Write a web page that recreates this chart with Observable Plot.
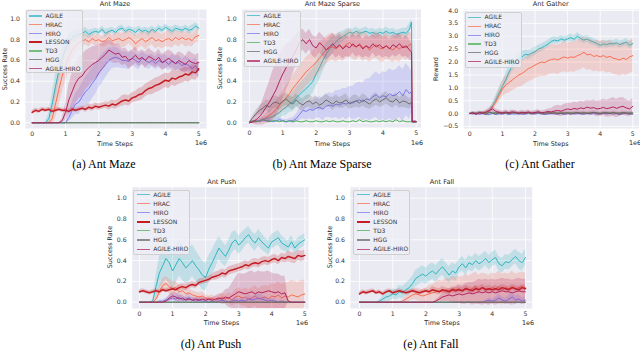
<!DOCTYPE html>
<html><head><meta charset="utf-8">
<script src="https://cdn.jsdelivr.net/npm/d3@7"></script>
<script src="https://cdn.jsdelivr.net/npm/@observablehq/plot@0.6"></script>
<style>
body{margin:0;background:#fff;}
#root{position:relative;width:640px;height:352px;overflow:hidden;font-family:"DejaVu Sans",sans-serif;}
.abs{position:absolute;white-space:nowrap;line-height:1;}
.c{transform:translate(-50%,-50%);}
.lbl{font-size:6.4px;color:#262626;}
.ttl{font-size:6.6px;color:#262626;}
.rot{transform:translate(-50%,-50%) rotate(-90deg);}
.cap{font-family:"Liberation Serif","Times New Roman",serif;font-size:12px;color:#000;}
.leg{position:absolute;border:0.7px solid #cfcfcf;border-radius:2px;background:rgba(238,238,245,0.82);box-sizing:border-box;}
.legtxt{font-size:6px;color:#333;transform:translateY(-50%);}
svg{position:absolute;}
</style></head><body><div id="root"></div>
<script>
// ---------------- x values (time steps, 1e6) ----------------
const steps = [0,0.1,0.2,0.3,0.4,0.5,0.6,0.7,0.8,0.9,1,1.1,1.2,1.3,1.4,1.5,1.6,1.7,1.8,1.9,2,2.1,2.2,2.3,2.4,2.5,2.6,2.7,2.8,2.9,3,3.1,3.2,3.3,3.4,3.5,3.6,3.7,3.8,3.9,4,4.1,4.2,4.3,4.4,4.5,4.6,4.7,4.8,4.9,5];
const stepsSparse = [0,0.1,0.2,0.3,0.4,0.5,0.6,0.7,0.8,0.9,1,1.1,1.2,1.3,1.4,1.5,1.6,1.7,1.8,1.9,2,2.1,2.2,2.3,2.4,2.5,2.6,2.7,2.8,2.9,3,3.1,3.2,3.3,3.4,3.5,3.6,3.7,3.8,3.9,4,4.1,4.2,4.3,4.4,4.5,4.6,4.7,4.8,4.86,4.88,5];
const xTicks = [0,1,2,3,4,5];
const rateTicks = [0,0.2,0.4,0.6,0.8,1.0];
const rewardTicks = [-0.5,0,0.5,1,1.5,2,2.5,3,3.5,4];

// ---------------- (a) Ant Maze ----------------
const mazeAgile = [0,0,0,0,0,0.04,0.18,0.35,0.5,0.62, 0.72,0.78,0.82,0.84,0.85,0.86,0.88,0.85,0.87,0.88, 0.87,0.9,0.86,0.88,0.89,0.87,0.9,0.91,0.88,0.9, 0.89,0.87,0.9,0.88,0.89,0.87,0.9,0.88,0.91,0.89, 0.92,0.9,0.88,0.91,0.9,0.89,0.91,0.89,0.9,0.93, 0.91];
const mazeAgileBand = [0,0,0,0,0.01,0.05,0.1,0.12,0.12,0.1, 0.08,0.07,0.06,0.05,0.05,0.04,0.04,0.04,0.03,0.03, 0.03,0.03,0.04,0.03,0.03,0.03,0.03,0.03,0.03,0.03, 0.03,0.04,0.03,0.03,0.03,0.04,0.03,0.03,0.03,0.03, 0.03,0.03,0.04,0.03,0.03,0.03,0.03,0.03,0.04,0.03, 0.03];
const mazeHrac = [0,0,0,0,0,0,0.04,0.18,0.32,0.45, 0.55,0.63,0.7,0.74,0.77,0.79,0.8,0.78,0.81,0.79, 0.8,0.78,0.79,0.82,0.79,0.8,0.81,0.79,0.8,0.82, 0.8,0.76,0.79,0.81,0.78,0.8,0.82,0.79,0.8,0.78, 0.8,0.81,0.79,0.82,0.8,0.82,0.8,0.81,0.79,0.83, 0.84];
const mazeHracBand = [0,0,0,0,0,0.01,0.06,0.14,0.16,0.16, 0.15,0.13,0.1,0.08,0.07,0.06,0.05,0.05,0.05,0.05, 0.05,0.05,0.06,0.06,0.05,0.06,0.06,0.07,0.07,0.06, 0.07,0.08,0.07,0.07,0.08,0.07,0.07,0.08,0.07,0.07, 0.07,0.08,0.07,0.07,0.07,0.06,0.07,0.07,0.06,0.06, 0.06];
const mazeHiro = [0,0,0,0,0,0,0,0,0,0, 0,0.05,0.12,0.18,0.2,0.25,0.3,0.33,0.38,0.42, 0.48,0.52,0.56,0.6,0.62,0.63,0.62,0.6,0.6,0.59, 0.62,0.6,0.58,0.62,0.6,0.58,0.6,0.57,0.6,0.58, 0.59,0.56,0.6,0.57,0.58,0.55,0.57,0.55,0.52,0.55, 0.5];
const mazeHiroBand = [0,0,0,0,0,0,0,0,0,0, 0,0.04,0.08,0.1,0.12,0.13,0.14,0.15,0.15,0.15, 0.14,0.14,0.13,0.12,0.1,0.1,0.09,0.08,0.08,0.08, 0.07,0.07,0.07,0.06,0.06,0.07,0.06,0.06,0.07,0.06, 0.07,0.06,0.06,0.07,0.07,0.06,0.07,0.07,0.08,0.07, 0.08];
const mazeLesson = [0.1,0.12,0.11,0.13,0.12,0.13,0.11,0.12,0.13,0.12, 0.12,0.11,0.13,0.12,0.13,0.14,0.13,0.15,0.14,0.16, 0.15,0.16,0.17,0.16,0.18,0.17,0.19,0.21,0.22,0.21, 0.24,0.25,0.27,0.28,0.31,0.33,0.34,0.36,0.37,0.39, 0.41,0.4,0.43,0.42,0.44,0.45,0.47,0.46,0.49,0.48, 0.52];
const mazeLessonBand = [0.02,0.02,0.02,0.02,0.02,0.02,0.02,0.02,0.02,0.02, 0.02,0.02,0.02,0.02,0.02,0.02,0.03,0.03,0.03,0.03, 0.03,0.03,0.03,0.04,0.04,0.04,0.04,0.05,0.05,0.05, 0.05,0.05,0.06,0.06,0.06,0.06,0.07,0.07,0.07,0.07, 0.07,0.07,0.07,0.07,0.07,0.07,0.07,0.07,0.07,0.07, 0.07];
const mazeTd3 = [0,0,0,0,0,0,0,0,0,0, 0,0,0,0,0,0,0,0,0,0, 0,0,0,0,0,0,0,0,0,0, 0,0,0,0,0,0,0,0,0,0, 0,0,0,0,0,0,0,0,0,0, 0];
const mazeHgg = [0,0,0,0,0,0,0,0,0,0, 0,0,0,0,0,0,0,0,0,0, 0,0,0,0,0,0,0,0,0,0, 0,0,0,0,0,0,0,0,0,0, 0,0,0,0,0,0,0,0,0,0, 0];
const mazeAgileHiro = [0,0,0,0,0,0,0,0,0,0.02, 0.1,0.22,0.3,0.38,0.43,0.45,0.5,0.53,0.56,0.58, 0.6,0.63,0.66,0.7,0.68,0.66,0.67,0.63,0.64,0.6, 0.62,0.65,0.61,0.63,0.6,0.64,0.62,0.6,0.63,0.58, 0.6,0.62,0.59,0.57,0.6,0.58,0.56,0.6,0.58,0.57, 0.58];
const mazeAgileHiroBand = [0,0,0,0,0,0,0,0,0,0.02, 0.08,0.14,0.18,0.2,0.2,0.2,0.19,0.18,0.17,0.16, 0.15,0.13,0.12,0.1,0.1,0.09,0.09,0.08,0.08,0.08, 0.08,0.08,0.07,0.07,0.08,0.08,0.07,0.07,0.08,0.08, 0.08,0.08,0.09,0.08,0.08,0.09,0.08,0.09,0.09,0.08, 0.09];

// ---------------- (b) Ant Maze Sparse ----------------
const sparseAgile = [0,0.01,0.01,0.02,0.03,0.04,0.05,0.06,0.08,0.1, 0.13,0.15,0.18,0.2,0.24,0.27,0.3,0.33,0.36,0.4, 0.47,0.53,0.6,0.66,0.71,0.75,0.78,0.81,0.83,0.85, 0.87,0.86,0.88,0.86,0.87,0.88,0.86,0.87,0.85,0.87, 0.86,0.88,0.86,0.87,0.85,0.86,0.87,0.86,0.9, 0.97,0.01,0.01];
const sparseAgileBand = [0,0.01,0.01,0.01,0.02,0.02,0.03,0.04,0.05,0.06, 0.07,0.08,0.08,0.09,0.1,0.1,0.11,0.11,0.12,0.12, 0.12,0.12,0.11,0.1,0.09,0.08,0.07,0.06,0.05,0.05, 0.04,0.04,0.04,0.04,0.04,0.04,0.04,0.04,0.04,0.04, 0.04,0.04,0.04,0.04,0.04,0.04,0.04,0.05,0.05, 0.03,0.01,0.01];
const sparseHrac = [0,0.01,0.01,0.02,0.03,0.05,0.07,0.1,0.13,0.17, 0.2,0.24,0.28,0.33,0.37,0.41,0.45,0.49,0.52,0.55, 0.58,0.62,0.66,0.7,0.72,0.73,0.71,0.74,0.72,0.75, 0.77,0.74,0.73,0.76,0.72,0.74,0.7,0.73,0.75,0.72, 0.71,0.74,0.72,0.7,0.73,0.71,0.74,0.72,0.75, 0.76,0.01,0.01];
const sparseHracBand = [0,0.01,0.01,0.02,0.03,0.04,0.05,0.06,0.08,0.09, 0.1,0.11,0.12,0.13,0.13,0.14,0.14,0.14,0.14,0.14, 0.14,0.14,0.14,0.13,0.13,0.13,0.13,0.13,0.13,0.13, 0.13,0.13,0.13,0.13,0.13,0.13,0.12,0.12,0.13,0.13, 0.13,0.13,0.12,0.12,0.13,0.13,0.12,0.12,0.12, 0.1,0.01,0.01];
const sparseHiro = [0,0.01,0.02,0.01,0.03,0.02,0.02,0.01,0.02,0.03, 0.02,0.01,0.02,0.02,0.04,0.08,0.12,0.11,0.13,0.12, 0.14,0.15,0.13,0.16,0.17,0.16,0.18,0.17,0.19,0.18, 0.2,0.19,0.21,0.22,0.2,0.23,0.22,0.25,0.27,0.24, 0.26,0.25,0.28,0.26,0.27,0.3,0.26,0.32,0.28, 0.3,0.01,0.01];
const sparseHiroBand = [0,0.01,0.01,0.01,0.02,0.02,0.02,0.01,0.02,0.02, 0.02,0.02,0.02,0.03,0.04,0.06,0.08,0.08,0.09,0.09, 0.1,0.1,0.11,0.11,0.12,0.12,0.13,0.14,0.14,0.15, 0.15,0.16,0.17,0.17,0.18,0.19,0.2,0.21,0.22,0.22, 0.23,0.23,0.24,0.24,0.24,0.25,0.25,0.25,0.25, 0.2,0.01,0.01];
const sparseTd3 = [0.01,0.02,0.01,0.02,0.03,0.02,0.01,0.02,0.02,0.01, 0.02,0.01,0.02,0.01,0.02,0.01,0.01,0.02,0.01,0.01, 0.02,0.01,0.01,0.02,0.01,0.02,0.01,0.01,0.02,0.01, 0.01,0.02,0.01,0.03,0.01,0.02,0.01,0.01,0.02,0.01, 0.02,0.01,0.02,0.01,0.03,0.01,0.02,0.01,0.01, 0.01,0.01,0.01];
const sparseHgg = [0.01,0.05,0.09,0.12,0.14,0.17,0.15,0.19,0.2,0.18, 0.21,0.23,0.2,0.18,0.22,0.19,0.17,0.2,0.21,0.18, 0.2,0.17,0.19,0.22,0.2,0.18,0.21,0.19,0.2,0.22, 0.18,0.2,0.21,0.19,0.22,0.2,0.18,0.21,0.23,0.2, 0.22,0.24,0.21,0.2,0.23,0.19,0.21,0.2,0.18, 0.2,0.01,0.01];
const sparseHggBand = [0,0.02,0.03,0.04,0.05,0.05,0.06,0.06,0.06,0.06, 0.06,0.06,0.06,0.06,0.06,0.06,0.06,0.06,0.06,0.06, 0.06,0.05,0.06,0.06,0.05,0.06,0.06,0.05,0.06,0.06, 0.05,0.06,0.06,0.05,0.06,0.06,0.05,0.06,0.06,0.05, 0.06,0.06,0.05,0.06,0.06,0.05,0.06,0.06,0.05, 0.05,0.01,0.01];
const sparseAgileHiro = [0,0.01,0.03,0.06,0.1,0.15,0.2,0.26,0.32,0.4, 0.47,0.53,0.58,0.64,0.7,0.77,0.8,0.76,0.8,0.74, 0.72,0.77,0.74,0.7,0.73,0.76,0.72,0.75,0.71,0.74, 0.72,0.76,0.73,0.75,0.71,0.74,0.72,0.76,0.73,0.75, 0.72,0.74,0.71,0.75,0.73,0.76,0.72,0.74,0.7, 0.68,0.01,0.01];
const sparseAgileHiroBand = [0,0.02,0.05,0.08,0.12,0.16,0.2,0.24,0.26,0.26, 0.25,0.22,0.2,0.17,0.14,0.12,0.1,0.1,0.1,0.1, 0.1,0.1,0.1,0.1,0.1,0.1,0.1,0.1,0.1,0.1, 0.1,0.09,0.1,0.1,0.09,0.1,0.1,0.09,0.1,0.1, 0.1,0.1,0.09,0.1,0.1,0.1,0.09,0.1,0.1, 0.08,0.01,0.01];

// ---------------- (c) Ant Gather ----------------
const gatherAgile = [0,0.02,-0.01,0.03,0.01,0.04,0.1,0.3,0.55,0.8, 1.05,1.3,1.6,1.85,2.0,2.15,2.2,2.3,2.28,2.35, 2.4,2.5,2.55,2.62,2.7,2.8,2.85,2.82,2.9,2.85, 2.9,2.95,2.88,3.0,2.92,2.85,2.9,2.82,2.78,2.72, 2.65,2.7,2.68,2.72,2.7,2.75,2.68,2.72,2.78,2.65, 2.72];
const gatherAgileBand = [0.03,0.04,0.05,0.05,0.05,0.06,0.08,0.12,0.15,0.2, 0.22,0.25,0.25,0.25,0.22,0.2,0.2,0.18,0.18,0.16, 0.16,0.15,0.15,0.15,0.14,0.14,0.14,0.13,0.13,0.13, 0.13,0.14,0.13,0.14,0.13,0.14,0.13,0.14,0.13,0.14, 0.14,0.13,0.14,0.14,0.13,0.14,0.14,0.13,0.14,0.14, 0.14];
const gatherHrac = [0,0.01,0.02,-0.01,0.03,0.05,0.1,0.25,0.45,0.7, 0.95,1.1,1.2,1.3,1.4,1.5,1.55,1.65,1.75,1.8, 1.88,1.95,2.0,1.98,2.05,2.1,2.12,2.08,2.15,2.2, 2.15,2.2,2.18,2.25,2.3,2.38,2.28,2.3,2.22,2.25, 2.2,2.25,2.18,2.22,2.15,2.12,2.08,2.15,2.1,2.2, 2.25];
const gatherHracBand = [0.03,0.04,0.05,0.05,0.05,0.06,0.08,0.12,0.18,0.25, 0.3,0.35,0.4,0.42,0.45,0.48,0.5,0.5,0.52,0.52, 0.53,0.54,0.55,0.55,0.55,0.56,0.56,0.57,0.57,0.58, 0.58,0.58,0.59,0.59,0.6,0.6,0.6,0.6,0.6,0.6, 0.6,0.61,0.61,0.62,0.62,0.62,0.63,0.63,0.63,0.64, 0.65];
const gatherHiro = [0,-0.02,0.01,-0.03,0,-0.02,-0.04,0.01,-0.03,-0.01, -0.02,0,-0.03,-0.01,-0.02,0.01,-0.03,-0.02,0,-0.01, -0.02,0,-0.01,-0.03,-0.02,0.01,-0.01,-0.02,0,-0.03, -0.01,0.02,-0.02,0,-0.01,-0.03,0.01,-0.02,0,-0.01, -0.02,0,-0.01,0.01,-0.02,0,-0.03,-0.01,0,-0.02, -0.03];
const gatherHiroBand = [0.03,0.04,0.04,0.05,0.04,0.05,0.05,0.04,0.05,0.04, 0.05,0.04,0.05,0.05,0.04,0.05,0.04,0.05,0.05,0.04, 0.05,0.04,0.05,0.04,0.05,0.05,0.04,0.05,0.04,0.05, 0.05,0.04,0.05,0.04,0.05,0.05,0.04,0.05,0.04,0.05, 0.04,0.05,0.05,0.04,0.05,0.04,0.05,0.05,0.04,0.05, 0.05];
const gatherTd3 = [0,0.02,0.01,0.03,0.02,0.01,0.03,0.02,0.04,0.02, 0.03,0.01,0.02,0.03,0.02,0.04,0.02,0.03,0.01,0.02, 0.03,0.02,0.04,0.02,0.03,0.02,0.01,0.03,0.02,0.04, 0.02,0.03,0.02,0.04,0.03,0.02,0.03,0.02,0.04,0.03, 0.02,0.03,0.04,0.02,0.03,0.02,0.03,0.04,0.02,0.03, 0.02];
const gatherHgg = [0,0.03,-0.02,0.04,0.01,-0.03,0.05,0.02,-0.02,0.03, 0,0.04,-0.01,0.02,0.05,-0.02,0.03,0,0.04,-0.01, 0.02,0.05,0,-0.02,0.03,0.01,0.04,-0.01,0.02,0, 0.03,-0.02,0.02,0.04,0,0.03,-0.01,0.02,0.05,0.01, -0.01,0.03,0.02,0,0.04,0.01,-0.02,0.03,0.02,0, 0.02];
const gatherHggBand = [0.03,0.05,0.06,0.06,0.07,0.06,0.07,0.07,0.06,0.07, 0.07,0.06,0.07,0.06,0.07,0.07,0.06,0.07,0.06,0.07, 0.06,0.07,0.07,0.06,0.07,0.06,0.07,0.07,0.06,0.07, 0.07,0.06,0.07,0.06,0.07,0.07,0.06,0.07,0.06,0.07, 0.06,0.07,0.07,0.06,0.07,0.06,0.07,0.07,0.06,0.07, 0.07];
const gatherAgileHiro = [0,0.02,-0.03,0.04,0.01,0.06,0.12,0.18,0.08,0.05, 0.02,0.06,0.03,0.07,0.04,0.01,0.05,0.03,0.06,0.02, 0.04,0.07,0.03,0.05,0.08,0.06,0.1,0.12,0.09,0.14, 0.18,0.15,0.2,0.17,0.22,0.19,0.25,0.21,0.23,0.18, 0.2,0.24,0.19,0.22,0.26,0.2,0.25,0.28,0.22,0.18, 0.28];
const gatherAgileHiroBand = [0.03,0.04,0.05,0.05,0.06,0.07,0.1,0.12,0.1,0.08, 0.07,0.08,0.07,0.08,0.07,0.07,0.08,0.07,0.08,0.07, 0.08,0.08,0.07,0.08,0.1,0.14,0.18,0.2,0.2,0.22, 0.22,0.24,0.24,0.25,0.26,0.26,0.27,0.28,0.3,0.3, 0.3,0.32,0.33,0.35,0.36,0.36,0.35,0.34,0.32,0.3, 0.3];

// ---------------- (d) Ant Push ----------------
const pushAgile = [0,0,0,0,0.01,0.15,0.28,0.35,0.42,0.38, 0.3,0.36,0.42,0.38,0.33,0.36,0.4,0.35,0.31,0.26, 0.24,0.32,0.38,0.45,0.52,0.48,0.44,0.5,0.57,0.6, 0.55,0.58,0.62,0.65,0.6,0.57,0.62,0.58,0.55,0.52, 0.58,0.6,0.62,0.57,0.55,0.53,0.58,0.52,0.56,0.58, 0.6];
const pushAgileBand = [0,0,0,0,0.01,0.1,0.15,0.18,0.2,0.2, 0.18,0.18,0.17,0.17,0.16,0.16,0.15,0.15,0.14,0.14, 0.13,0.13,0.12,0.12,0.11,0.11,0.1,0.1,0.1,0.09, 0.09,0.09,0.08,0.08,0.08,0.08,0.08,0.08,0.07,0.07, 0.07,0.07,0.07,0.07,0.06,0.06,0.06,0.06,0.06,0.06, 0.06];
const pushHrac = [0,0,0,0,0,0.03,0.1,0.16,0.18,0.15, 0.13,0.14,0.1,0.11,0.08,0.09,0.07,0.06,0.05,0.06, 0.04,0.03,0.04,0.02,0.03,0.05,0.03,0.04,0.02,0.05, 0.06,0.04,0.05,0.03,0.04,0.06,0.03,0.04,0.05,0.03, 0.06,0.05,0.07,0.04,0.06,0.05,0.07,0.06,0.05,0.07, 0.08];
const pushHracBand = [0,0,0,0,0,0.02,0.05,0.06,0.07,0.07, 0.07,0.06,0.06,0.05,0.05,0.05,0.04,0.04,0.04,0.04, 0.03,0.03,0.03,0.03,0.03,0.04,0.04,0.05,0.06,0.07, 0.08,0.08,0.09,0.09,0.1,0.1,0.1,0.11,0.11,0.12, 0.12,0.12,0.13,0.13,0.13,0.14,0.14,0.14,0.14,0.14, 0.13];
const pushHiro = [0,0,0,0,0,0,0.01,0.01,0.02,0.03, 0.04,0.03,0.05,0.02,0.03,0.04,0.02,0.01,0.02,0.01, 0.01,0,0.01,0,0.01,0.02,0.01,0,0.01,0.02, 0.01,0.02,0.01,0.03,0.02,0.03,0.04,0.03,0.02,0.01, 0.02,0.01,0,0.01,0,0,0,0,0,0, 0];
const pushHiroBand = [0,0,0,0,0,0,0.01,0.01,0.02,0.03, 0.04,0.04,0.05,0.03,0.03,0.04,0.03,0.02,0.02,0.02, 0.02,0.01,0.02,0.01,0.02,0.02,0.02,0.01,0.02,0.03, 0.02,0.03,0.02,0.04,0.03,0.04,0.05,0.04,0.03,0.02, 0.02,0.02,0.01,0.01,0.01,0,0,0,0,0, 0];
const pushLesson = [0.1,0.11,0.1,0.09,0.1,0.11,0.1,0.12,0.11,0.12, 0.13,0.12,0.14,0.15,0.14,0.16,0.17,0.16,0.19,0.2, 0.21,0.22,0.24,0.25,0.26,0.28,0.27,0.3,0.31,0.32, 0.33,0.34,0.36,0.35,0.37,0.38,0.37,0.39,0.4,0.39, 0.41,0.42,0.4,0.43,0.42,0.44,0.43,0.42,0.45,0.44, 0.45];
const pushLessonBand = [0.02,0.02,0.02,0.02,0.02,0.02,0.02,0.02,0.02,0.02, 0.02,0.02,0.03,0.03,0.03,0.03,0.03,0.03,0.03,0.03, 0.03,0.03,0.03,0.04,0.04,0.04,0.04,0.04,0.04,0.04, 0.04,0.04,0.04,0.04,0.04,0.04,0.04,0.04,0.04,0.04, 0.04,0.04,0.04,0.04,0.04,0.05,0.05,0.05,0.05,0.05, 0.05];
const pushTd3 = [0,0,0,0,0,0,0,0,0,0, 0,0,0,0,0,0,0,0,0,0, 0,0,0,0,0,0,0,0,0,0, 0,0,0,0,0,0,0,0,0,0, 0,0,0,0,0,0,0,0,0,0, 0];
const pushHgg = [0,0,0,0,0,0,0,0,0,0, 0,0,0,0,0,0,0,0,0,0, 0,0,0,0,0,0,0,0,0,0, 0,0,0,0,0,0,0,0,0,0, 0,0,0,0,0,0,0,0,0,0, 0];
const pushAgileHiro = [0,0,0,0,0,0,0,0,0.01,0.04, 0.06,0.05,0.03,0.04,0.02,0.03,0.02,0.03,0.02,0.03, 0.02,0.03,0.02,0.03,0.04,0.03,0.05,0.04,0.06,0.08, 0.1,0.09,0.08,0.09,0.1,0.08,0.1,0.09,0.1,0.11, 0.1,0.09,0.1,0.08,0.09,0.01,0,0,0,0, 0];
const pushAgileHiroBand = [0,0,0,0,0,0,0,0,0.01,0.03, 0.04,0.04,0.03,0.03,0.02,0.02,0.02,0.02,0.02,0.02, 0.02,0.02,0.02,0.03,0.04,0.05,0.07,0.09,0.12,0.15, 0.18,0.18,0.19,0.2,0.2,0.2,0.2,0.2,0.19,0.19, 0.18,0.18,0.17,0.17,0.16,0.01,0,0,0,0, 0];

// ---------------- (e) Ant Fall ----------------
const fallAgile = [0,0,0,0,0,0,0.01,0.03,0.05,0.06, 0.08,0.07,0.1,0.09,0.12,0.14,0.18,0.23,0.25,0.27, 0.25,0.28,0.3,0.27,0.31,0.34,0.3,0.26,0.3,0.28, 0.34,0.37,0.33,0.38,0.36,0.4,0.37,0.39,0.42,0.38, 0.41,0.43,0.37,0.35,0.39,0.38,0.41,0.44,0.4,0.38, 0.43];
const fallAgileBand = [0,0,0,0,0,0,0.01,0.03,0.04,0.05, 0.05,0.05,0.06,0.06,0.06,0.07,0.07,0.08,0.08,0.08, 0.08,0.08,0.08,0.08,0.08,0.08,0.08,0.08,0.08,0.08, 0.07,0.07,0.07,0.07,0.07,0.07,0.07,0.07,0.07,0.07, 0.07,0.07,0.07,0.07,0.07,0.07,0.07,0.07,0.08,0.08, 0.08];
const fallHrac = [0,0,0,0,0,0,0,0,0,0, 0,0,0,0.01,0.03,0.05,0.07,0.08,0.07,0.06, 0.07,0.08,0.09,0.1,0.11,0.1,0.12,0.11,0.13,0.12, 0.13,0.11,0.14,0.12,0.13,0.15,0.12,0.14,0.13,0.12, 0.14,0.13,0.15,0.12,0.14,0.13,0.15,0.13,0.14,0.15, 0.14];
const fallHracBand = [0,0,0,0,0,0,0,0,0,0, 0,0,0,0.01,0.03,0.04,0.05,0.06,0.06,0.06, 0.07,0.08,0.08,0.09,0.1,0.1,0.11,0.11,0.12,0.12, 0.12,0.13,0.13,0.13,0.14,0.14,0.14,0.14,0.14,0.14, 0.14,0.14,0.15,0.15,0.14,0.14,0.15,0.14,0.14,0.14, 0.14];
const fallHiro = [0,0,0,0,0,0,0,0,0,0, 0,0,0,0,0,0,0,0,0,0, 0,0,0,0,0,0,0,0,0,0, 0,0,0,0,0,0,0,0,0.01,0.02, 0.01,0.02,0.04,0.02,0.01,0.03,0.05,0.02,0.03,0.01, 0.02];
const fallHiroBand = [0,0,0,0,0,0,0,0,0,0, 0,0,0,0,0,0,0,0,0,0, 0,0,0,0,0,0,0,0,0,0, 0,0,0,0,0,0,0,0,0.01,0.02, 0.02,0.03,0.04,0.03,0.03,0.04,0.05,0.04,0.04,0.03, 0.03];
const fallLesson = [0.08,0.1,0.09,0.1,0.11,0.09,0.1,0.08,0.1,0.11, 0.09,0.1,0.11,0.1,0.09,0.1,0.11,0.1,0.09,0.1, 0.11,0.1,0.12,0.11,0.1,0.12,0.11,0.1,0.12,0.11, 0.12,0.11,0.13,0.12,0.11,0.13,0.12,0.14,0.12,0.13, 0.12,0.13,0.12,0.14,0.13,0.12,0.14,0.13,0.12,0.14, 0.13];
const fallLessonBand = [0.02,0.02,0.02,0.02,0.02,0.02,0.02,0.02,0.02,0.02, 0.02,0.02,0.02,0.02,0.02,0.02,0.02,0.02,0.02,0.02, 0.02,0.02,0.03,0.03,0.03,0.03,0.03,0.03,0.03,0.03, 0.03,0.03,0.03,0.03,0.03,0.03,0.03,0.03,0.03,0.03, 0.03,0.03,0.03,0.03,0.03,0.03,0.03,0.03,0.03,0.03, 0.03];
const fallTd3 = [0,0,0,0,0,0,0,0,0,0, 0,0,0,0,0,0,0,0,0,0, 0,0,0,0,0,0,0,0,0,0, 0,0,0,0,0,0,0,0,0,0, 0,0,0,0,0,0,0,0,0,0, 0];
const fallHgg = [0,0,0,0,0,0,0,0,0,0, 0,0,0,0,0,0,0,0,0,0, 0,0,0,0,0,0,0,0,0,0, 0,0,0,0,0,0,0,0,0,0, 0,0,0,0,0,0,0,0,0,0, 0];
const fallAgileHiro = [0,0,0,0,0,0,0,0,0,0, 0,0,0,0,0,0,0,0,0,0, 0,0,0,0.01,0.03,0.05,0.06,0.07,0.06,0.07, 0.08,0.07,0.08,0.09,0.08,0.09,0.1,0.09,0.1,0.09, 0.1,0.09,0.1,0.11,0.1,0.1,0.09,0.1,0.11,0.1, 0.1];
const fallAgileHiroBand = [0,0,0,0,0,0,0,0,0,0, 0,0,0,0,0,0,0,0,0,0, 0,0,0,0.01,0.02,0.04,0.05,0.06,0.07,0.08, 0.09,0.09,0.1,0.1,0.11,0.11,0.12,0.12,0.12,0.12, 0.12,0.12,0.12,0.12,0.12,0.12,0.12,0.12,0.12,0.12, 0.12];

// ---------------- styling ----------------
const colors = {AGILE:"#30b5c0", HRAC:"#fa6e50", HIRO:"#7878f0", LESSON:"#c41e24", TD3:"#4cae55", HGG:"#6b6b6b", "AGILE-HIRO":"#b0235c"};
const S = (name, mean, band) => ({name, mean, band});

const panels = [
  {title:"Ant Maze", caption:"(a) Ant Maze", ylabel:"Success Rate", xs:steps, yTicks:rateTicks,
   series:[S("AGILE",mazeAgile,mazeAgileBand),S("HRAC",mazeHrac,mazeHracBand),S("HIRO",mazeHiro,mazeHiroBand),S("LESSON",mazeLesson,mazeLessonBand),S("TD3",mazeTd3,null),S("HGG",mazeHgg,null),S("AGILE-HIRO",mazeAgileHiro,mazeAgileHiroBand)],
   box:{left:0,top:0,width:212,height:150,mL:25,mR:6,mT:9,mB:22}, xDom:[-0.2,5.23], yDom:[-0.055,1.09],
   titleY:3.5, xlabY:143.5, e6:[201,142.5], ylabX:4.5, cap:[104,164],
   leg:{left:25.5,top:10,width:57,height:63,first:6,step:8.75}},
  {title:"Ant Maze Sparse", caption:"(b) Ant Maze Sparse", ylabel:"Success Rate", xs:stepsSparse, yTicks:rateTicks,
   series:[S("AGILE",sparseAgile,sparseAgileBand),S("HRAC",sparseHrac,sparseHracBand),S("HIRO",sparseHiro,sparseHiroBand),S("TD3",sparseTd3,null),S("HGG",sparseHgg,sparseHggBand),S("AGILE-HIRO",sparseAgileHiro,sparseAgileHiroBand)],
   box:{left:212,top:0,width:212,height:150,mL:29.7,mR:3.5,mT:9,mB:23}, xDom:[-0.219,5.144], yDom:[-0.045,1.089],
   titleY:3.5, xlabY:143.5, e6:[417,142.5], ylabX:220, cap:[322,164],
   leg:{left:243.5,top:10.5,width:57,height:56.5,first:5.2,step:9.06}},
  {title:"Ant Gather", caption:"(c) Ant Gather", ylabel:"Reward", xs:steps, yTicks:rewardTicks,
   series:[S("AGILE",gatherAgile,gatherAgileBand),S("HRAC",gatherHrac,gatherHracBand),S("HIRO",gatherHiro,gatherHiroBand),S("TD3",gatherTd3,null),S("HGG",gatherHgg,gatherHggBand),S("AGILE-HIRO",gatherAgileHiro,gatherAgileHiroBand)],
   box:{left:424,top:0,width:216,height:150,mL:39.2,mR:1.5,mT:9,mB:22}, xDom:[-0.187,5.19], yDom:[-0.58,4.04],
   titleY:3.5, xlabY:143.5, e6:[635,142.5], ylabX:436, cap:[540,164],
   leg:{left:464.5,top:12.3,width:57,height:55.4,first:5,step:8.9}},
  {title:"Ant Push", caption:"(d) Ant Push", ylabel:"Success Rate", xs:steps, yTicks:rateTicks,
   series:[S("AGILE",pushAgile,pushAgileBand),S("HRAC",pushHrac,pushHracBand),S("HIRO",pushHiro,pushHiroBand),S("LESSON",pushLesson,pushLessonBand),S("TD3",pushTd3,null),S("HGG",pushHgg,null),S("AGILE-HIRO",pushAgileHiro,pushAgileHiroBand)],
   box:{left:100,top:170,width:212,height:160,mL:31.7,mR:4,mT:16.7,mB:22}, xDom:[-0.221,5.112], yDom:[-0.0606,1.1058],
   titleY:181.5, xlabY:322.7, e6:[302,322.5], ylabX:110, cap:[211,344],
   leg:{left:133.3,top:190,width:57,height:64.5,first:4.5,step:9.1}},
  {title:"Ant Fall", caption:"(e) Ant Fall", ylabel:"Success Rate", xs:steps, yTicks:rateTicks,
   series:[S("AGILE",fallAgile,fallAgileBand),S("HRAC",fallHrac,fallHracBand),S("HIRO",fallHiro,fallHiroBand),S("LESSON",fallLesson,fallLessonBand),S("TD3",fallTd3,null),S("HGG",fallHgg,null),S("AGILE-HIRO",fallAgileHiro,fallAgileHiroBand)],
   box:{left:320,top:170,width:215,height:160,mL:30,mR:3.3,mT:16.7,mB:22}, xDom:[-0.271,5.202], yDom:[-0.0606,1.1058],
   titleY:181.5, xlabY:322.7, e6:[528,322.5], ylabX:330, cap:[431,344],
   leg:{left:353.3,top:190,width:56.5,height:64.5,first:4.5,step:9.1}}
];

const root = document.getElementById("root");
function addText(txt, x, y, cls){
  const d = document.createElement("div");
  d.className = "abs " + cls; d.textContent = txt;
  d.style.left = x + "px"; d.style.top = y + "px";
  root.appendChild(d); return d;
}

for (const p of panels) {
  const b = p.box;
  const marks = [
    Plot.frame({fill:"#EAEAF2", stroke:"none"}),
    Plot.gridX(xTicks, {stroke:"#fff", strokeOpacity:1, strokeWidth:0.8}),
    Plot.gridY(p.yTicks, {stroke:"#fff", strokeOpacity:1, strokeWidth:0.8})
  ];
  for (const s of p.series) {
    const rows = s.mean.map((v,i)=>({x:p.xs[i], y:v, lo: s.band ? v - s.band[i] : v, hi: s.band ? v + s.band[i] : v}));
    const col = colors[s.name];
    if (s.band) marks.push(Plot.areaY(rows, {x:"x", y1:"lo", y2:"hi", fill:col, fillOpacity:0.22, clip:true}));
    marks.push(Plot.lineY(rows, {x:"x", y:"y", stroke:col, strokeWidth: s.name==="LESSON" ? 1.5 : 1, clip:true}));
  }
  const svg = Plot.plot({
    width:b.width, height:b.height,
    marginLeft:b.mL, marginRight:b.mR, marginTop:b.mT, marginBottom:b.mB,
    style:{background:"transparent", fontFamily:"DejaVu Sans", fontSize:"6.2px", color:"#333", overflow:"visible"},
    x:{domain:p.xDom, ticks:xTicks, tickSize:0, tickPadding:3.5, tickFormat:d=>String(d), label:null},
    y:{domain:p.yDom, ticks:p.yTicks, tickSize:0, tickPadding:5.5, tickFormat:d3.format(".1f"), label:null},
    marks
  });
  svg.style.left = b.left + "px"; svg.style.top = b.top + "px";
  root.appendChild(svg);

  const span = p.xDom[1]-p.xDom[0], inner = b.width - b.mL - b.mR;
  const cx = (b.left + b.mL) + (0 - p.xDom[0]) / span * inner + (5 / span * inner) / 2;
  addText(p.title, cx, p.titleY, "ttl c");
  addText("Time Steps", cx, p.xlabY, "lbl c");
  addText("1e6", p.e6[0], p.e6[1], "lbl c");
  addText(p.ylabel, p.ylabX, b.top + b.mT + (b.height - b.mT - b.mB)/2, "lbl rot");
  addText(p.caption, p.cap[0], p.cap[1], "cap c");

  // legend
  const L = p.leg;
  const box = document.createElement("div");
  box.className = "leg";
  Object.assign(box.style, {left:L.left+"px", top:L.top+"px", width:L.width+"px", height:L.height+"px"});
  root.appendChild(box);
  p.series.forEach((s,i)=>{
    const y = L.top + L.first + i*L.step;
    const w = s.name==="LESSON" ? 1.8 : 1.1;
    const ln = document.createElement("div");
    ln.className = "abs";
    Object.assign(ln.style, {left:(L.left+3.5)+"px", top:(y - w/2)+"px", width:"13px", height:w+"px", background:colors[s.name], opacity: s.name==="LESSON" ? 1 : 0.75});
    root.appendChild(ln);
    addText(s.name, L.left+20, y, "legtxt");
  });
}
</script>
</body></html>
